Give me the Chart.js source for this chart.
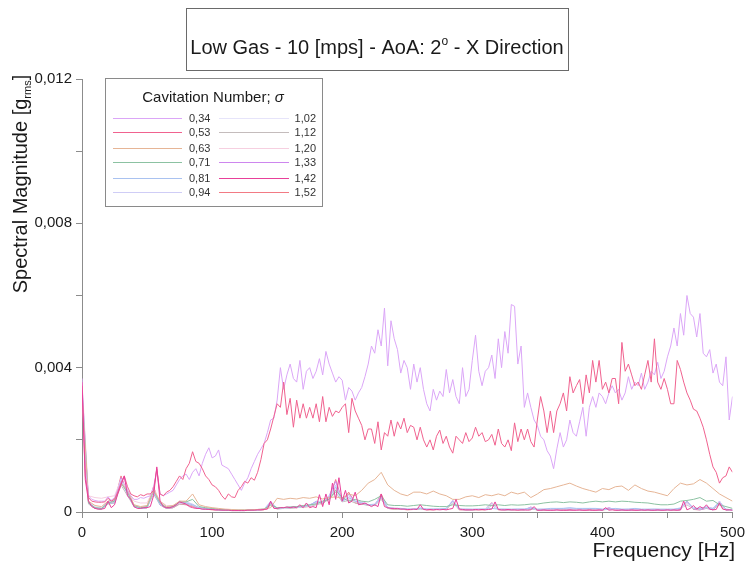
<!DOCTYPE html>
<html>
<head>
<meta charset="utf-8">
<script src="https://cdn.jsdelivr.net/npm/chart.js@4.4.0/dist/chart.umd.min.js"></script>
<style>
  html, body { margin: 0; padding: 0; background: #fff; }
  #wrap { position: relative; width: 751px; height: 566px; }
</style>
</head>
<body>
<div id="wrap"><canvas id="spectrum" width="751" height="566"></canvas></div>
<script>
// Spectral magnitude per cavitation number, in 1e-3 g_rms.
// "fine" series are sampled every 2.5 Hz, "coarse" ones every 5 Hz (0..500 Hz).
const fineStep = 2.5;
const coarseStep = 5;

const sigmaLabels = ['0,34', '0,53', '0,63', '0,71', '0,81', '0,94', '1,02', '1,12', '1,20', '1,33', '1,42', '1,52'];
const lineColors = ['#dba6f7', '#f0628f', '#e6b596', '#8cc2a2', '#a9c2f0', '#cfcdf6', '#e6e4fa', '#c4bcbc', '#f6cfe0', '#cd86ee', '#e8409a', '#f27a84'];

// sigma = 0,34 (2.5 Hz)
const mag034 = [
  3.7, 1.2, 0.45, 0.35, 0.32, 0.3, 0.3, 0.3, 0.42, 0.32,
  0.4, 0.6, 0.85, 0.95, 0.6, 0.45, 0.35, 0.35, 0.4, 0.38,
  0.42, 0.45, 0.7, 1.15, 0.5, 0.45, 0.5, 0.55, 0.6, 0.75,
  0.9, 1.0, 1.05, 0.9, 1.1, 1.2, 1.0, 1.35, 1.6, 1.78,
  1.5, 1.55, 1.72, 1.3, 1.25, 1.2, 1.05, 0.9, 0.75, 0.6,
  0.8, 0.95, 1.2, 1.4, 1.6, 1.75, 1.9, 2.2, 2.55, 2.6,
  3.1, 4.0, 3.4, 3.8, 4.1, 3.7, 3.6, 4.2, 3.4, 3.9,
  4.0, 3.7, 3.9, 4.25, 3.8, 4.45, 4.1, 3.85, 3.6, 3.75,
  3.65, 3.1, 3.45, 3.35, 3.1, 3.3, 3.45, 3.75, 4.1, 4.6,
  4.4, 5.05, 4.6, 5.65, 4.05, 5.3, 4.8, 4.5, 3.85, 4.2,
  4.0, 3.4, 4.1, 3.6, 4.0, 3.4, 3.0, 2.8, 3.4, 3.1,
  3.35, 3.2, 3.95, 3.3, 3.67, 3.2, 3.0, 4.0, 3.2, 3.4,
  4.2, 4.9, 3.9, 3.5, 3.9, 4.0, 4.35, 3.7, 4.8, 4.0,
  5.0, 4.4, 5.75, 5.7, 4.1, 4.6, 2.9, 3.3, 2.9, 2.55,
  2.4, 2.1, 2.0, 1.7, 1.55, 1.2, 1.75, 2.2, 1.8, 2.0,
  2.55, 2.2, 2.1, 2.5, 2.9, 2.1, 2.9, 3.2, 2.9, 3.3,
  3.2, 3.0, 3.3, 3.5, 3.3, 3.4, 3.1, 3.3, 3.75, 3.4,
  3.6, 3.5, 3.85, 3.4, 3.6, 3.9, 3.8, 4.15, 3.7, 3.9,
  4.3, 4.6, 5.1, 4.6, 5.5, 4.9, 6.0, 5.5, 5.4, 4.85,
  5.5, 4.4, 4.3, 4.5, 3.85, 4.1, 3.6, 3.5, 4.3, 2.55,
  3.2
];

// sigma = 0,53 (2.5 Hz)
const mag053 = [
  3.5, 1.0, 0.4, 0.3, 0.28, 0.27, 0.27, 0.28, 0.38, 0.3,
  0.35, 0.55, 0.8, 1.0, 0.7, 0.5, 0.45, 0.42, 0.48, 0.45,
  0.5, 0.5, 0.6, 1.2, 0.5, 0.45, 0.55, 0.6, 0.7, 0.85,
  1.0, 0.9, 1.2, 1.35, 1.67, 1.4, 1.35, 1.2, 1.0, 0.9,
  0.75, 0.7, 0.6, 0.45, 0.35, 0.5, 0.42, 0.4, 0.6, 0.7,
  0.85, 0.8, 0.95, 0.88, 1.1, 1.45, 1.9, 2.0, 2.3, 2.65,
  3.0, 2.9, 3.6, 2.7, 3.15, 2.35, 3.1, 2.6, 3.0, 2.6,
  2.9, 2.6, 3.0, 2.5, 3.2, 2.5, 2.9, 2.65, 2.8, 2.75,
  2.9, 3.0, 2.2, 3.15, 2.8, 2.6, 2.4, 2.0, 2.3, 2.3,
  1.9, 2.5, 1.72, 2.2, 2.1, 2.55, 2.1, 2.5, 2.3, 2.6,
  2.2, 2.4, 2.35, 2.0, 2.35, 2.0, 1.8, 2.0, 1.72, 2.1,
  2.27, 1.9, 2.1, 1.8, 1.63, 2.1, 2.0, 1.9, 2.2, 1.95,
  2.05, 2.35, 2.1, 2.2, 1.95, 2.0, 2.15, 1.85, 2.3, 1.9,
  1.8, 2.0, 1.7, 2.47, 1.95, 2.3, 2.0, 2.3, 1.95, 1.8,
  2.55, 3.2, 2.8, 2.2, 2.8, 2.2, 2.8, 3.0, 3.3, 2.8,
  3.75, 3.3, 3.5, 3.67, 3.0, 3.8, 3.3, 4.2, 3.6, 4.2,
  3.4, 3.6, 3.3, 3.7, 3.7, 3.0, 4.7, 3.9, 4.1, 3.8,
  3.5, 3.6, 3.4, 3.8, 4.2, 3.6, 4.8, 3.6, 3.4, 3.7,
  3.4, 3.0, 3.0, 4.2, 3.95, 3.6, 3.3, 3.1, 2.85, 2.8,
  2.6, 2.35, 2.0, 1.6, 1.25, 1.1, 0.8, 0.95, 1.0, 1.25,
  1.1
];

// sigma = 0,63 (5 Hz)
const mag063 = [
  3.3, 0.3, 0.18, 0.15, 0.3, 0.35, 0.8, 0.6, 0.2, 0.15,
  0.18, 0.6, 0.3, 0.15, 0.18, 0.3, 0.3, 0.5, 0.2, 0.15,
  0.12, 0.1, 0.08, 0.07, 0.06, 0.06, 0.06, 0.07, 0.08, 0.12,
  0.38, 0.35, 0.38, 0.36, 0.4, 0.38, 0.42, 0.36, 0.4, 0.42,
  0.38, 0.5, 0.45, 0.6, 0.8, 0.9, 1.1, 0.75, 0.6, 0.5,
  0.45, 0.55, 0.55, 0.5, 0.58, 0.5, 0.45, 0.35, 0.35, 0.42,
  0.45, 0.4, 0.48, 0.45, 0.5, 0.45, 0.55, 0.5, 0.55, 0.4,
  0.5, 0.62, 0.65, 0.7, 0.75, 0.8, 0.72, 0.65, 0.6, 0.55,
  0.65, 0.62, 0.7, 0.72, 0.6, 0.75, 0.65, 0.58, 0.55, 0.5,
  0.45, 0.65, 0.8, 0.75, 0.78, 0.9, 0.8, 0.65, 0.5, 0.4,
  0.3
];

// sigma = 0,71 (5 Hz)
const mag071 = [
  3.2, 0.25, 0.12, 0.1, 0.25, 0.3, 0.8, 0.55, 0.18, 0.12,
  0.15, 0.6, 0.25, 0.12, 0.15, 0.28, 0.28, 0.35, 0.15, 0.12,
  0.1, 0.08, 0.06, 0.05, 0.05, 0.05, 0.06, 0.07, 0.08, 0.2,
  0.12, 0.12, 0.14, 0.15, 0.18, 0.2, 0.22, 0.3, 0.35, 0.6,
  0.4, 0.3, 0.35, 0.3, 0.28, 0.35, 0.45, 0.2, 0.18, 0.18,
  0.16, 0.18, 0.2, 0.18, 0.16, 0.15, 0.15, 0.2, 0.18, 0.17,
  0.17, 0.18, 0.2, 0.18, 0.2, 0.18, 0.2, 0.19, 0.2, 0.22,
  0.22, 0.25, 0.27, 0.28, 0.26, 0.28, 0.27, 0.25, 0.28, 0.3,
  0.28, 0.3, 0.28, 0.3, 0.29, 0.27, 0.26, 0.25, 0.22, 0.2,
  0.2, 0.22, 0.3, 0.32, 0.35, 0.4, 0.3, 0.32, 0.2, 0.15,
  0.1
];

// sigma = 0,81 (5 Hz)
const mag081 = [
  3.4, 0.25, 0.1, 0.08, 0.25, 0.25, 0.85, 0.5, 0.15, 0.1,
  0.12, 0.55, 0.2, 0.12, 0.15, 0.28, 0.25, 0.2, 0.12, 0.1,
  0.08, 0.06, 0.05, 0.05, 0.04, 0.04, 0.05, 0.06, 0.07, 0.25,
  0.1, 0.12, 0.12, 0.14, 0.15, 0.18, 0.3, 0.25, 0.4, 0.7,
  0.3, 0.4, 0.3, 0.25, 0.2, 0.2, 0.4, 0.12, 0.1, 0.1,
  0.08, 0.08, 0.1, 0.08, 0.08, 0.08, 0.1, 0.3, 0.08, 0.08,
  0.08, 0.08, 0.08, 0.1, 0.08, 0.08, 0.08, 0.08, 0.08, 0.1,
  0.08, 0.08, 0.1, 0.1, 0.1, 0.12, 0.1, 0.1, 0.1, 0.1,
  0.08, 0.08, 0.1, 0.08, 0.08, 0.1, 0.08, 0.08, 0.08, 0.08,
  0.08, 0.08, 0.1, 0.3, 0.1, 0.1, 0.12, 0.1, 0.25, 0.08,
  0.06
];

// sigma = 0,94 (5 Hz)
const mag094 = [
  3.5, 0.28, 0.12, 0.1, 0.28, 0.3, 0.9, 0.55, 0.18, 0.12,
  0.15, 0.6, 0.22, 0.12, 0.15, 0.3, 0.28, 0.22, 0.12, 0.1,
  0.08, 0.07, 0.06, 0.05, 0.05, 0.05, 0.05, 0.06, 0.08, 0.3,
  0.1, 0.12, 0.14, 0.14, 0.16, 0.2, 0.25, 0.3, 0.45, 0.75,
  0.35, 0.45, 0.3, 0.28, 0.2, 0.22, 0.45, 0.12, 0.1, 0.1,
  0.08, 0.08, 0.12, 0.08, 0.08, 0.09, 0.1, 0.32, 0.08, 0.08,
  0.07, 0.08, 0.08, 0.25, 0.08, 0.08, 0.07, 0.08, 0.08, 0.12,
  0.07, 0.08, 0.08, 0.09, 0.1, 0.1, 0.09, 0.08, 0.1, 0.09,
  0.07, 0.08, 0.09, 0.07, 0.08, 0.08, 0.07, 0.07, 0.08, 0.07,
  0.07, 0.07, 0.12, 0.28, 0.12, 0.1, 0.15, 0.1, 0.3, 0.07,
  0.05
];

// sigma = 1,02 (5 Hz)
const mag102 = [
  3.4, 0.3, 0.15, 0.12, 0.25, 0.3, 0.8, 0.5, 0.2, 0.14,
  0.16, 0.55, 0.25, 0.14, 0.16, 0.25, 0.25, 0.2, 0.12, 0.1,
  0.09, 0.07, 0.06, 0.05, 0.05, 0.05, 0.06, 0.07, 0.08, 0.2,
  0.1, 0.1, 0.12, 0.13, 0.15, 0.18, 0.22, 0.28, 0.4, 0.6,
  0.3, 0.35, 0.3, 0.25, 0.2, 0.2, 0.4, 0.12, 0.1, 0.09,
  0.08, 0.08, 0.1, 0.07, 0.08, 0.08, 0.09, 0.28, 0.07, 0.07,
  0.07, 0.07, 0.08, 0.2, 0.07, 0.07, 0.07, 0.08, 0.07, 0.1,
  0.07, 0.07, 0.08, 0.08, 0.09, 0.09, 0.08, 0.08, 0.09, 0.08,
  0.07, 0.07, 0.08, 0.07, 0.07, 0.08, 0.07, 0.07, 0.07, 0.07,
  0.06, 0.07, 0.1, 0.22, 0.1, 0.09, 0.12, 0.09, 0.25, 0.07,
  0.05
];

// sigma = 1,12 (5 Hz)
const mag112 = [
  3.3, 0.22, 0.1, 0.08, 0.22, 0.25, 0.75, 0.45, 0.15, 0.1,
  0.12, 0.5, 0.2, 0.1, 0.12, 0.22, 0.22, 0.18, 0.1, 0.08,
  0.07, 0.06, 0.05, 0.04, 0.04, 0.04, 0.05, 0.06, 0.07, 0.18,
  0.08, 0.1, 0.1, 0.12, 0.14, 0.16, 0.2, 0.25, 0.35, 0.55,
  0.28, 0.32, 0.25, 0.22, 0.18, 0.18, 0.35, 0.1, 0.08, 0.08,
  0.07, 0.07, 0.08, 0.07, 0.07, 0.07, 0.08, 0.25, 0.07, 0.06,
  0.06, 0.07, 0.07, 0.18, 0.07, 0.06, 0.06, 0.07, 0.06, 0.08,
  0.06, 0.06, 0.07, 0.07, 0.08, 0.08, 0.07, 0.07, 0.08, 0.07,
  0.06, 0.07, 0.07, 0.06, 0.06, 0.07, 0.06, 0.06, 0.06, 0.06,
  0.06, 0.06, 0.1, 0.2, 0.09, 0.08, 0.1, 0.08, 0.2, 0.06,
  0.05
];

// sigma = 1,20 (5 Hz)
const mag120 = [
  3.6, 0.45, 0.4, 0.38, 0.42, 0.45, 0.9, 0.6, 0.3, 0.25,
  0.25, 0.65, 0.3, 0.18, 0.18, 0.28, 0.25, 0.2, 0.12, 0.1,
  0.08, 0.07, 0.06, 0.05, 0.05, 0.05, 0.05, 0.06, 0.07, 0.22,
  0.1, 0.1, 0.12, 0.12, 0.14, 0.16, 0.22, 0.25, 0.38, 0.65,
  0.3, 0.38, 0.28, 0.25, 0.2, 0.2, 0.38, 0.12, 0.1, 0.08,
  0.07, 0.08, 0.1, 0.07, 0.07, 0.08, 0.08, 0.3, 0.07, 0.07,
  0.06, 0.07, 0.07, 0.22, 0.07, 0.07, 0.06, 0.07, 0.07, 0.1,
  0.06, 0.07, 0.07, 0.08, 0.08, 0.08, 0.08, 0.07, 0.08, 0.08,
  0.07, 0.07, 0.08, 0.06, 0.07, 0.07, 0.06, 0.06, 0.07, 0.06,
  0.06, 0.06, 0.1, 0.25, 0.1, 0.09, 0.14, 0.09, 0.22, 0.06,
  0.05
];

// sigma = 1,33 (5 Hz)
const mag133 = [
  3.5, 0.28, 0.12, 0.1, 0.3, 0.3, 0.95, 0.55, 0.15, 0.1,
  0.12, 0.65, 0.2, 0.1, 0.12, 0.25, 0.22, 0.18, 0.1, 0.08,
  0.07, 0.06, 0.05, 0.04, 0.04, 0.04, 0.05, 0.06, 0.07, 0.28,
  0.1, 0.12, 0.12, 0.14, 0.14, 0.2, 0.28, 0.25, 0.45, 0.85,
  0.3, 0.5, 0.3, 0.25, 0.2, 0.2, 0.45, 0.12, 0.1, 0.08,
  0.07, 0.07, 0.1, 0.07, 0.07, 0.07, 0.08, 0.32, 0.07, 0.06,
  0.06, 0.07, 0.07, 0.25, 0.07, 0.06, 0.06, 0.07, 0.06, 0.14,
  0.05, 0.06, 0.06, 0.06, 0.06, 0.06, 0.06, 0.06, 0.06, 0.06,
  0.05, 0.12, 0.06, 0.05, 0.05, 0.06, 0.05, 0.05, 0.05, 0.05,
  0.05, 0.06, 0.06, 0.28, 0.08, 0.06, 0.1, 0.06, 0.3, 0.05,
  0.05
];

// sigma = 1,42 (2.5 Hz)
const mag142 = [
  3.6, 0.9, 0.3, 0.15, 0.1, 0.08, 0.08, 0.1, 0.3, 0.12,
  0.2, 0.5, 0.75, 1.0, 0.45, 0.35, 0.15, 0.1, 0.1, 0.12,
  0.12, 0.15, 0.45, 1.25, 0.3, 0.15, 0.12, 0.12, 0.15, 0.2,
  0.28, 0.25, 0.22, 0.15, 0.12, 0.1, 0.1, 0.08, 0.08, 0.07,
  0.07, 0.06, 0.06, 0.05, 0.05, 0.05, 0.04, 0.04, 0.04, 0.04,
  0.04, 0.05, 0.05, 0.05, 0.06, 0.06, 0.07, 0.08, 0.3, 0.1,
  0.1, 0.12, 0.12, 0.14, 0.12, 0.14, 0.12, 0.2, 0.12, 0.25,
  0.12, 0.15, 0.12, 0.48, 0.15, 0.5, 0.2, 0.8, 0.35, 0.95,
  0.3, 0.6, 0.25, 0.3, 0.55, 0.2, 0.22, 0.25, 0.2, 0.15,
  0.2, 0.15, 0.5, 0.15, 0.12, 0.1, 0.1, 0.1, 0.08, 0.08,
  0.07, 0.07, 0.08, 0.07, 0.2, 0.07, 0.06, 0.07, 0.06, 0.07,
  0.06, 0.07, 0.06, 0.08, 0.1, 0.35, 0.08, 0.07, 0.06, 0.06,
  0.06, 0.07, 0.06, 0.07, 0.06, 0.07, 0.08, 0.28, 0.07, 0.06,
  0.06, 0.07, 0.06, 0.06, 0.05, 0.06, 0.06, 0.05, 0.06, 0.15,
  0.05, 0.05, 0.06, 0.05, 0.05, 0.05, 0.06, 0.05, 0.05, 0.05,
  0.06, 0.05, 0.05, 0.06, 0.05, 0.05, 0.06, 0.05, 0.05, 0.06,
  0.05, 0.12, 0.05, 0.06, 0.05, 0.05, 0.06, 0.05, 0.05, 0.06,
  0.05, 0.05, 0.06, 0.05, 0.06, 0.05, 0.05, 0.06, 0.05, 0.05,
  0.06, 0.05, 0.06, 0.05, 0.06, 0.3, 0.06, 0.1, 0.18, 0.08,
  0.15, 0.1, 0.2, 0.08, 0.06, 0.07, 0.25, 0.08, 0.06, 0.06,
  0.05
];

// sigma = 1,52 (5 Hz)
const mag152 = [
  3.4, 0.25, 0.1, 0.08, 0.28, 0.28, 1.0, 0.5, 0.15, 0.1,
  0.12, 0.7, 0.2, 0.1, 0.12, 0.22, 0.2, 0.15, 0.1, 0.08,
  0.06, 0.05, 0.05, 0.04, 0.04, 0.04, 0.05, 0.05, 0.06, 0.25,
  0.1, 0.1, 0.12, 0.12, 0.14, 0.15, 0.25, 0.22, 0.4, 0.9,
  0.3, 0.55, 0.25, 0.22, 0.2, 0.18, 0.5, 0.1, 0.08, 0.08,
  0.06, 0.07, 0.1, 0.06, 0.06, 0.07, 0.07, 0.3, 0.06, 0.06,
  0.06, 0.06, 0.06, 0.26, 0.06, 0.06, 0.06, 0.06, 0.06, 0.12,
  0.05, 0.05, 0.05, 0.06, 0.05, 0.05, 0.06, 0.05, 0.05, 0.05,
  0.05, 0.1, 0.05, 0.05, 0.05, 0.05, 0.05, 0.05, 0.05, 0.05,
  0.05, 0.05, 0.06, 0.3, 0.07, 0.06, 0.12, 0.06, 0.28, 0.05,
  0.05
];

const seriesValues = [mag034, mag053, mag063, mag071, mag081, mag094, mag102, mag112, mag120, mag133, mag142, mag152];
const seriesSteps = [fineStep, fineStep, coarseStep, coarseStep, coarseStep, coarseStep, coarseStep, coarseStep, coarseStep, coarseStep, fineStep, coarseStep];
// drawing order: lower number is painted on top
const seriesOrder = [3, 2, 4, 5, 6, 7, 8, 9, 10, 11, 1, 12];

const yTicks = [0, 0.004, 0.008, 0.012];
const xTicks = [0, 100, 200, 300, 400, 500];

const FONT = "'Liberation Sans', Arial, sans-serif";

const datasets = seriesValues.map((vals, k) => ({
  label: sigmaLabels[k],
  data: vals.map((v, i) => ({ x: i * seriesSteps[k], y: v / 1000 })),
  borderColor: lineColors[k],
  backgroundColor: lineColors[k],
  borderWidth: 1,
  pointRadius: 0,
  tension: 0,
  order: seriesOrder[k]
}));

// legend rows (pixel rows of the sample lines)
const legendRows = [118, 132, 148, 162, 178, 192];

// title box, legend box and axis titles drawn straight onto the canvas
const decorations = {
  id: 'decorations',
  afterDraw(chart) {
    const ctx = chart.ctx;
    ctx.save();
    ctx.setLineDash([]);
    ctx.lineWidth = 1;

    // title box
    ctx.strokeStyle = '#6a6a6a';
    ctx.strokeRect(186.5, 8.5, 382, 62);
    const part1 = 'Low Gas - 10 [mps] - AoA: 2';
    const part2 = ' - X Direction';
    ctx.fillStyle = '#1a1a1a';
    ctx.textBaseline = 'alphabetic';
    ctx.font = '20px ' + FONT;
    const w1 = ctx.measureText(part1).width;
    const w3 = ctx.measureText(part2).width;
    ctx.font = '12px ' + FONT;
    const w2 = ctx.measureText('o').width;
    const tx = 377 - (w1 + w2 + w3) / 2;
    ctx.textAlign = 'left';
    ctx.font = '20px ' + FONT;
    ctx.fillText(part1, tx, 54);
    ctx.font = '12px ' + FONT;
    ctx.fillText('o', tx + w1, 45);
    ctx.font = '20px ' + FONT;
    ctx.fillText(part2, tx + w1 + w2, 54);

    // legend box
    ctx.fillStyle = '#fff';
    ctx.fillRect(105, 78, 217, 128);
    ctx.strokeStyle = '#8a8a8a';
    ctx.strokeRect(105.5, 78.5, 217, 128);
    ctx.fillStyle = '#1a1a1a';
    ctx.font = '15px ' + FONT;
    const head = 'Cavitation Number; ';
    const hw = ctx.measureText(head).width;
    ctx.font = 'italic 15px ' + FONT;
    const sw = ctx.measureText('\u03c3').width;
    const hx = 213 - (hw + sw) / 2;
    ctx.font = '15px ' + FONT;
    ctx.fillText(head, hx, 102);
    ctx.font = 'italic 15px ' + FONT;
    ctx.fillText('\u03c3', hx + hw, 102);

    ctx.font = '11px ' + FONT;
    ctx.textBaseline = 'middle';
    sigmaLabels.forEach((label, k) => {
      const col = Math.floor(k / 6);
      const y = legendRows[k % 6] + 0.5;
      ctx.strokeStyle = lineColors[k];
      ctx.beginPath();
      if (col === 0) {
        ctx.moveTo(113, y);
        ctx.lineTo(182, y);
      } else {
        ctx.moveTo(219, y);
        ctx.lineTo(289, y);
      }
      ctx.stroke();
      ctx.fillStyle = '#333';
      if (col === 0) {
        ctx.textAlign = 'left';
        ctx.fillText(label, 189, y);
      } else {
        ctx.textAlign = 'right';
        ctx.fillText(label, 316, y);
      }
    });

    // y axis title with subscript
    ctx.fillStyle = '#1a1a1a';
    ctx.textBaseline = 'alphabetic';
    ctx.textAlign = 'left';
    ctx.translate(27, 184);
    ctx.rotate(-Math.PI / 2);
    const yt1 = 'Spectral Magnitude [g';
    const yt2 = 'rms';
    const yt3 = ']';
    ctx.font = '20px ' + FONT;
    const a = ctx.measureText(yt1).width;
    const c = ctx.measureText(yt3).width;
    ctx.font = '11px ' + FONT;
    const b = ctx.measureText(yt2).width;
    const sx = -(a + b + c) / 2;
    ctx.font = '20px ' + FONT;
    ctx.fillText(yt1, sx, 0);
    ctx.font = '11px ' + FONT;
    ctx.fillText(yt2, sx + a, 4);
    ctx.font = '20px ' + FONT;
    ctx.fillText(yt3, sx + a + b, 0);
    ctx.setTransform(1, 0, 0, 1, 0, 0);

    // x axis title
    ctx.font = '21px ' + FONT;
    ctx.textAlign = 'right';
    ctx.fillText('Frequency [Hz]', 735, 557);

    ctx.restore();
  }
};

const whiteBg = {
  id: 'whiteBg',
  beforeDraw(chart) {
    const ctx = chart.ctx;
    ctx.save();
    ctx.fillStyle = '#fff';
    ctx.fillRect(0, 0, chart.width, chart.height);
    ctx.restore();
  }
};

new Chart(document.getElementById('spectrum'), {
  type: 'line',
  data: { datasets: datasets },
  options: {
    responsive: false,
    animation: false,
    devicePixelRatio: 1,
    layout: { padding: { top: 79, right: 15, left: 0, bottom: 0 } },
    plugins: { legend: { display: false }, tooltip: { enabled: false } },
    scales: {
      x: {
        type: 'linear',
        min: 0,
        max: 500,
        afterFit: (s) => { s.height = 54; },
        ticks: {
          stepSize: 50,
          autoSkip: false,
          maxRotation: 0,
          padding: 6,
          color: '#1a1a1a',
          font: { family: FONT, size: 15 },
          callback: (v) => (xTicks.includes(v) ? String(v) : '')
        },
        grid: { drawOnChartArea: false, drawTicks: true, tickLength: 6, color: '#8c8c8c' },
        border: { color: '#8c8c8c' }
      },
      y: {
        min: 0,
        max: 0.012,
        afterFit: (s) => { s.width = 82; },
        ticks: {
          stepSize: 0.002,
          autoSkip: false,
          padding: 4,
          color: '#1a1a1a',
          font: { family: FONT, size: 15 },
          callback: (v) => {
            const hit = yTicks.find((t) => Math.abs(t - v) < 1e-9);
            if (hit === undefined) return '';
            return hit === 0 ? '0' : hit.toFixed(3).replace('.', ',');
          }
        },
        grid: { drawOnChartArea: false, drawTicks: true, tickLength: 6, color: '#8c8c8c' },
        border: { color: '#8c8c8c' }
      }
    }
  },
  plugins: [whiteBg, decorations]
});
</script>
</body>
</html>
